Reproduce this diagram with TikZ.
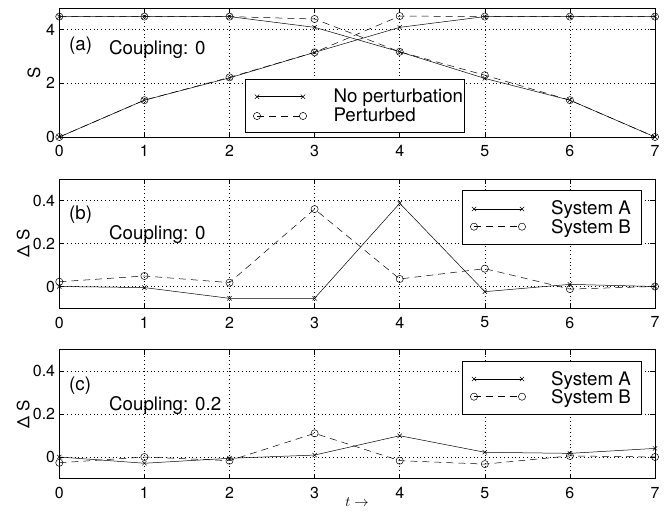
\documentclass[tikz,border=0pt]{standalone}
\usepackage{fontspec}
\setmainfont{TeX Gyre Heros}
\usetikzlibrary{plotmarks}
\tikzset{
  grd/.style={dash pattern=on 0.8bp off 3bp, line width=0.5bp},
  tck/.style={line width=0.6bp},
  lblx/.style={anchor=north, inner sep=0pt, font=\fontsize{16}{18}\selectfont},
  lbly/.style={anchor=east, inner sep=0pt, font=\fontsize{16}{18}\selectfont},
  txt/.style={anchor=base west, inner sep=0pt, font=\fontsize{18.8}{21}\selectfont},
  ytxt/.style={inner sep=0pt, rotate=90, font=\fontsize{17}{19}\selectfont},
  sysa/.style={line width=0.5bp, mark=x, mark size=3bp},
  sysb/.style={line width=0.5bp, dash pattern=on 7bp off 5bp, mark=o, mark size=3.6bp, mark options={solid}},
}
\begin{document}
\begin{tikzpicture}[x=1bp,y=-1bp]
\useasboundingbox (0,0) rectangle (665,514);

\begin{scope}[shift={(59.3,137)}, x=85.1bp, y=26.875bp]
\foreach \t in {1,...,6} \draw[grd] (\t,0) -- (\t,4.8);
\foreach \v in {2,4} \draw[grd] (0,\v) -- (7,\v);
\draw[tck] (0,0) rectangle (7,4.8);
\foreach \t in {0,...,7} {
  \draw[tck] (\t,0) -- ++(0pt,5bp);
  \draw[tck] (\t,4.8) -- ++(0pt,-5bp);
  \node[lblx] (xa\t) at ([yshift=-8.5bp]\t,0) {\t};
}
\foreach \v in {0,2,4} {
  \draw[tck] (0,\v) -- ++(5bp,0pt);
  \draw[tck] (7,\v) -- ++(-5bp,0pt);
  \node[lbly] (ya\v) at ([xshift=-4bp]0,\v) {\v};
}
\draw[sysa] plot coordinates {(0,0) (1,1.37) (2,2.2) (3,3.15) (4,4.08) (5,4.48) (6,4.48) (7,4.48)};
\draw[sysa] plot coordinates {(0,4.48) (1,4.48) (2,4.48) (3,4.08) (4,3.17) (5,2.18) (6,1.37) (7,0)};
\draw[sysb] plot coordinates {(0,0) (1,1.37) (2,2.22) (3,3.15) (4,4.5) (5,4.48) (6,4.48) (7,4.48)};
\draw[sysb] plot coordinates {(0,4.48) (1,4.48) (2,4.48) (3,4.39) (4,3.17) (5,2.3) (6,1.37) (7,0)};
\end{scope}
\node[ytxt] (ylaba) at (34,72.5) {S};
\node[txt] (pa) at (69,51) {(a)};
\node[txt] (cpa) at (109,54.5) {Coupling: 0};
\draw[tck, fill=white] (245,79) rectangle (464,132);
\draw[sysa] plot coordinates {(257,96.7) (303,96.7)};
\draw[sysb] plot coordinates {(257,116) (303,116)};
\node[txt] (lga1) at (333.3,102.7) {No perturbation};
\node[txt] (lga2) at (333.3,121.7) {Perturbed};

\begin{scope}[shift={(59.3,286.5)}, x=85.1bp, y=215bp]
\foreach \t in {1,...,6} \draw[grd] (\t,-0.1) -- (\t,0.5);
\foreach \v in {0,0.2,0.4} \draw[grd] (0,\v) -- (7,\v);
\draw[tck] (0,-0.1) rectangle (7,0.5);
\foreach \t in {0,...,7} {
  \draw[tck] (\t,-0.1) -- ++(0pt,5bp);
  \draw[tck] (\t,0.5) -- ++(0pt,-5bp);
  \node[lblx] (xb\t) at ([yshift=-8.5bp]\t,-0.1) {\t};
}
\foreach \v/\n in {0/0,0.2/1,0.4/2} {
  \draw[tck] (0,\v) -- ++(5bp,0pt);
  \draw[tck] (7,\v) -- ++(-5bp,0pt);
  \node[lbly] (yb\n) at ([xshift=-4bp]0,\v) {\v};
}
\draw[sysa] plot coordinates {(0,0) (1,-0.005) (2,-0.055) (3,-0.055) (4,0.387) (5,-0.024) (6,0.01) (7,0)};
\draw[sysb] plot coordinates {(0,0.022) (1,0.049) (2,0.018) (3,0.36) (4,0.035) (5,0.083) (6,-0.012) (7,0)};
\end{scope}
\node[ytxt] (ylabb) at (23.3,243.5) {Δ S};
\node[txt] (pb) at (69,219.3) {(b)};
\node[txt] (cpb) at (109,240) {Coupling: 0};
\draw[tck, fill=white] (462,190.7) rectangle (641,244);
\draw[sysa] plot coordinates {(474,209) (522,209)};
\draw[sysb] plot coordinates {(474,226.7) (522,226.7)};
\node[txt, anchor=base east] (lgb1) at (631,215) {System A};
\node[txt, anchor=base east] (lgb2) at (631,233.3) {System B};

\begin{scope}[shift={(59.3,457)}, x=85.1bp, y=215bp]
\foreach \t in {1,...,6} \draw[grd] (\t,-0.1) -- (\t,0.5);
\foreach \v in {0,0.2,0.4} \draw[grd] (0,\v) -- (7,\v);
\draw[tck] (0,-0.1) rectangle (7,0.5);
\foreach \t in {0,...,7} {
  \draw[tck] (\t,-0.1) -- ++(0pt,5bp);
  \draw[tck] (\t,0.5) -- ++(0pt,-5bp);
  \node[lblx] (xc\t) at ([yshift=-8.5bp]\t,-0.1) {\t};
}
\foreach \v/\n in {0/0,0.2/1,0.4/2} {
  \draw[tck] (0,\v) -- ++(5bp,0pt);
  \draw[tck] (7,\v) -- ++(-5bp,0pt);
  \node[lbly] (yc\n) at ([xshift=-4bp]0,\v) {\v};
}
\draw[sysa] plot coordinates {(0,0) (1,-0.029) (2,-0.006) (3,0.009) (4,0.099) (5,0.022) (6,0.017) (7,0.04)};
\draw[sysb] plot coordinates {(0,-0.027) (1,0) (2,-0.017) (3,0.11) (4,-0.017) (5,-0.033) (6,0.005) (7,0)};
\end{scope}
\node[ytxt] (ylabc) at (23.3,414) {Δ S};
\node[txt] (pc) at (69,390) {(c)};
\node[txt] (cpc) at (109,410) {Coupling: 0.2};
\draw[tck, fill=white] (462,361.7) rectangle (641,414);
\draw[sysa] plot coordinates {(474,379) (522,379)};
\draw[sysb] plot coordinates {(474,396.7) (522,396.7)};
\node[txt, anchor=base east] (lgc1) at (631,385) {System A};
\node[txt, anchor=base east] (lgc2) at (631,403.3) {System B};

\node[inner sep=0pt, font=\fontsize{15}{17}\selectfont] (tlab) at (357,502) {$t\rightarrow$};
\end{tikzpicture}
\end{document}
